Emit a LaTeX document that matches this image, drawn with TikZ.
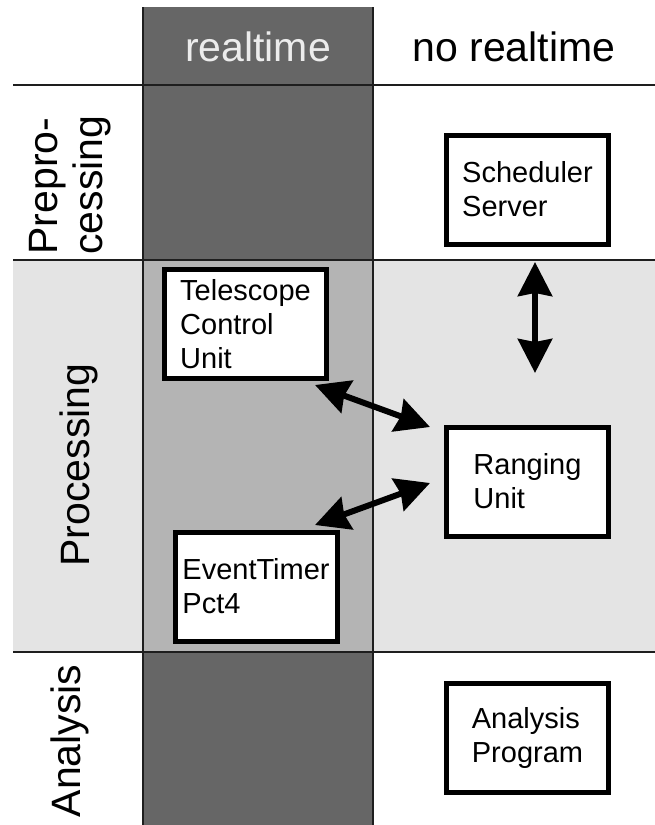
\documentclass[tikz,border=0pt]{standalone}
\usepackage{fontspec}
\setmainfont{Liberation Sans}
\usetikzlibrary{arrows.meta}
\definecolor{rtdark}{RGB}{102,102,102}
\definecolor{rtmid}{RGB}{180,180,180}
\definecolor{rtlight}{RGB}{228,228,228}
\definecolor{rtline}{RGB}{30,30,30}
\definecolor{rttext}{RGB}{236,236,236}

\tikzset{
  unitbox/.style={draw=black,fill=white,line width=5pt,minimum width=162pt,
    minimum height=109pt,align=left,inner sep=4pt,font=\fontsize{29}{34}\selectfont},
  headlabel/.style={font=\fontsize{41}{46}\selectfont},
  rowlabel/.style={rotate=90,align=left,font=\fontsize{41}{45}\selectfont},
  gridline/.style={draw=rtline,line width=2.5pt},
  biarrow/.style={line width=6pt,
    {Stealth[length=34pt,width=34pt,inset=3pt]}-{Stealth[length=34pt,width=34pt,inset=3pt]}}
}

\begin{document}
\begin{tikzpicture}[x=1pt,y=-1pt]
\useasboundingbox (0,0) rectangle (655,825);
% table
\fill[white] (0,0) rectangle (655,825);
\fill[rtlight] (13,260) rectangle (655,652);
\fill[rtdark] (143,7) rectangle (373,825);
\fill[rtmid] (143,260) rectangle (373,652);
\foreach \y in {85,260,652}
  \draw[gridline] (13,\y) -- (655,\y);
\foreach \x in {143,373}
  \draw[gridline] (\x,7) -- (\x,825);

\node[headlabel,text=rttext] (rt) at (258,47) {realtime};
\node[headlabel] (nort) at (514,47) {no realtime};
\node[rowlabel] (prep) at (70,185) {Prepro-\\cessing};
\node[rowlabel] (proc) at (79,465) {Processing};
\node[rowlabel] (anal) at (70,741) {Analysis};

% units
\node[unitbox] (sched) at (527.5,189.5) {Scheduler\\Server};
\node[unitbox] (tcu) at (245.5,324) {Telescope\\Control\\Unit};
\node[unitbox] (rang) at (527.5,481.5) {Ranging\\Unit};
\node[unitbox] (et) at (256,586.5) {EventTimer\\Pct4};
\node[unitbox] (prog) at (527.5,737.5) {Analysis\\Program};

\coordinate (schedport) at ([shift={(7.5,15.5)}]sched.south);
\coordinate (rangtop) at ([shift={(7.5,-51.5)}]rang.north);
\coordinate (tcuport) at ([shift={(-14,4)}]tcu.south east);
\coordinate (rangnw) at ([shift={(-14,2.5)}]rang.north west);
\coordinate (etport) at ([shift={(-24.5,-4.5)}]et.north east);
\coordinate (rangw) at ([shift={(-14,1.5)}]rang.west);

\draw[biarrow] (schedport) -- (rangtop);
\draw[biarrow] (tcuport) -- (rangnw);
\draw[biarrow] (etport) -- (rangw);
\end{tikzpicture}
\end{document}
